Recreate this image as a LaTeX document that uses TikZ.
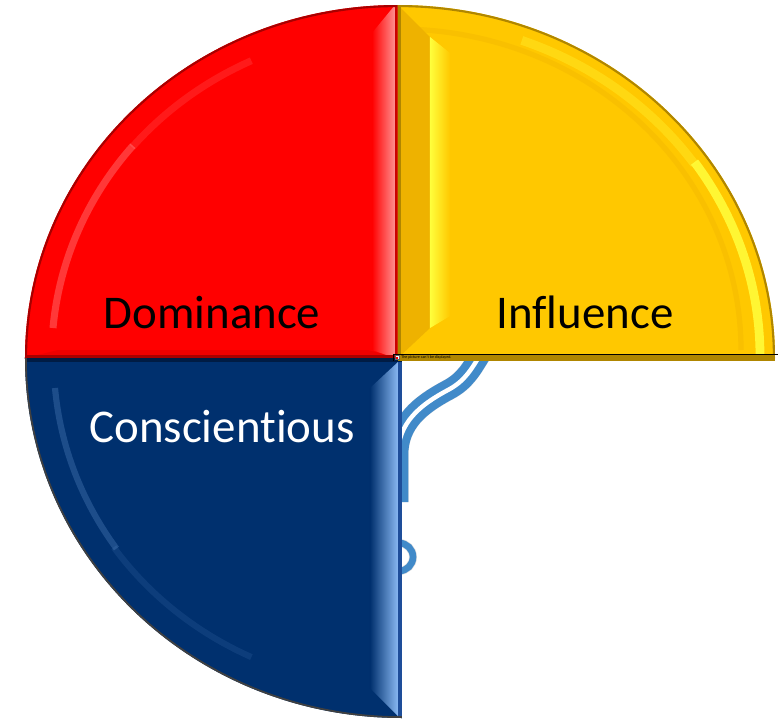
\documentclass[tikz,border=0pt]{standalone}
\usepackage{fontspec}
\setmainfont{Carlito}[Ligatures=NoCommon]
\usetikzlibrary{calc}
\definecolor{discRed}{HTML}{FF0000}
\definecolor{discRedDark}{HTML}{A80000}
\definecolor{discRedLight}{HTML}{FF9090}
\definecolor{discGold}{HTML}{FFC800}
\definecolor{discGoldMid}{HTML}{EEB200}
\definecolor{discGoldDark}{HTML}{B08600}
\definecolor{discGoldLight}{HTML}{FFFF3C}
\definecolor{discNavy}{HTML}{00306E}
\definecolor{discNavyDark}{HTML}{001C44}
\definecolor{discNavyEdge}{HTML}{1E4E9A}
\definecolor{discNavyLight}{HTML}{88B8F2}
\definecolor{discWire}{HTML}{418AC9}

\begin{document}
\begin{tikzpicture}[x=0.02cm,y=0.02cm,font=\fontsize{26.7}{32}\selectfont]
    \tikzset{qtext/.style={anchor=base,inner sep=0pt},
      wire/.style={discWire,line width=4.6pt,double=white,double distance=2.5pt},
      wireshade/.style={black,opacity=0.13,line width=12pt}}
    \useasboundingbox (-398,-363) rectangle (380,358);

    % wire and ring, partly hidden behind the quadrants
    \coordinate (wireTop) at (84,6);
    \coordinate (wireBend) at (50,-32);
    \coordinate (wireFoot) at (0,-97);
    \coordinate (wireEnd) at (0,-144);
    \coordinate (ring) at (1,-199);
    \begin{scope}[shift={(3,-4)}]
      \draw[wireshade] (wireTop) to[out=-122,in=28] (wireBend) to[out=208,in=90] (wireFoot) -- (wireEnd);
      \draw[black,opacity=0.13,line width=4.5pt] (ring) circle[radius=14];
    \end{scope}
    \draw[wire] (wireTop) to[out=-122,in=28] (wireBend) to[out=208,in=90] (wireFoot) -- (wireEnd);
    \draw[discWire,line width=3.8pt] (ring) circle[radius=14];

    % Dominance
    \begin{scope}
      \clip (0,0) -- (-373,0) arc[start angle=180,end angle=90,x radius=373,y radius=353] -- cycle;
      \fill[discRed] (-380,-5) rectangle (5,360);
      \draw[white,opacity=0.22,line width=4pt] (-345,30) arc[start angle=175,end angle=140,x radius=347,y radius=328];
      \draw[white,opacity=0.1,line width=4pt] ({347*cos(140)},{328*sin(140)}) arc[start angle=140,end angle=115,x radius=347,y radius=328];
      \fill[discRed!85!black,opacity=0.4] (-373,0) -- (-340,8) -- (-30,8) -- (0,0) -- cycle;
      \shade[left color=discRed,right color=discRedLight] (-26,8) -- (-3,0) -- (-3,353) -- (-26,325) -- cycle;
      \fill[discRedDark!60!discRed] (-3,0) rectangle (1,360);
      \fill[discRedDark] (-380,-2) rectangle (5,3);
      \draw[discRedDark,line width=2.4pt] (-373,0) arc[start angle=180,end angle=90,x radius=373,y radius=353];
    \end{scope}

    % Influence
    \begin{scope}
      \clip (0,0) -- (0,353) arc[start angle=90,end angle=0,x radius=377,y radius=353] -- cycle;
      \fill[discGold] (-5,-5) rectangle (380,360);
      \fill[discGoldMid] (0,0) -- (0,353) -- (32,321) -- (32,30) -- cycle;
      \shade[left color=discGoldLight,right color=discGold] (32,30) -- (32,321) -- (52,305) -- (52,42) -- cycle;
      \draw[discGoldMid,opacity=0.35,line width=3pt] (343,8) arc[start angle=0,end angle=88,x radius=343,y radius=321];
      \draw[discGoldLight,opacity=0.85,line width=5pt] (362,2) arc[start angle=0,end angle=35,x radius=362,y radius=338];
      \draw[discGoldLight,opacity=0.3,line width=5pt] ({362*cos(35)},{338*sin(35)}) arc[start angle=35,end angle=70,x radius=362,y radius=338];
      \fill[discGoldDark] (0,0) rectangle (3,360);
      \draw[discGoldDark,line width=2.4pt] (0,353) arc[start angle=90,end angle=0,x radius=377,y radius=353];
    \end{scope}

    % Conscientious
    \begin{scope}
      \clip (4,0) -- (-373,0) arc[start angle=180,end angle=270,x radius=377,y radius=360] -- cycle;
      \fill[discNavy] (-380,5) rectangle (10,-365);
      \draw[discNavyLight,opacity=0.22,line width=3.5pt] (-343,-30) arc[start angle=185,end angle=215,x radius=347,y radius=330];
      \draw[discNavyLight,opacity=0.1,line width=3.5pt] ({347*cos(215)},{330*sin(215)}) arc[start angle=215,end angle=245,x radius=347,y radius=330];
      \shade[left color=discNavy,right color=discNavyLight] (-28,-30) -- (0,-4) -- (0,-358) -- (-28,-330) -- cycle;
      \fill[discNavyEdge] (0,0) rectangle (4,-365);
      \fill[discNavyDark] (-380,0) rectangle (10,-4);
      \draw[black!75,line width=2pt] (-373,0) arc[start angle=180,end angle=270,x radius=377,y radius=360];
    \end{scope}

    % broken picture placeholder along the seam
    \fill[discGoldDark] (0,-3) rectangle (377,4);
    \draw[black,line width=0.5pt] (-5,-3) -- (-5,4) -- (380,4);
    \draw[black!60,fill=white,line width=0.2pt] (-3,-1.5) rectangle (1,2.5);
    \fill[red] (-2,-0.5) rectangle (0,1.5);
    \node[anchor=west,inner sep=0pt,font=\fontsize{2.3}{3}\selectfont] (broken) at (3,0.5) {The picture can't be displayed.};

    \node[qtext] (dominance) at (-186,30) {Dominance};
    \node[qtext] (influence) at (187,30) {Influence};
    \node[qtext,white] (conscientious) at (-176,-84) {Conscientious};
\end{tikzpicture}
\end{document}
